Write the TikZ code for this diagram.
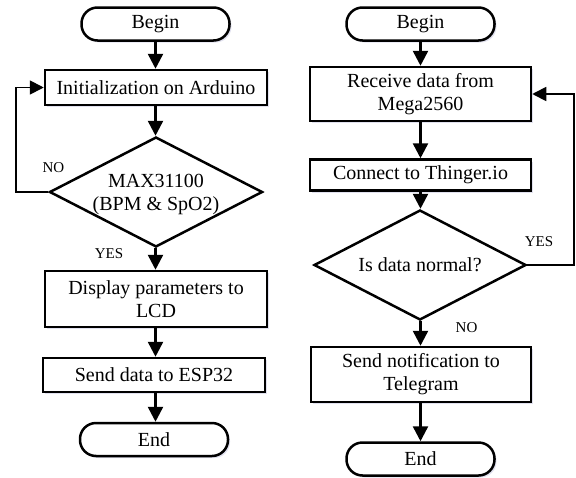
\documentclass[tikz,border=0pt]{standalone}
\usepackage{fontspec}
\setmainfont{Liberation Serif}
\usetikzlibrary{arrows.meta,shapes.geometric,shadows}
\begin{document}
\begin{tikzpicture}[x=1pt,y=-1pt,
  every node/.style={font=\fontsize{20}{23}\selectfont},
  shad/.style={drop shadow={shadow xshift=2pt,shadow yshift=-2pt,opacity=0.18,fill=blue!30!gray}},
  term/.style={draw,line width=2.5pt,rounded corners=16pt,minimum width=148pt,minimum height=33pt,inner sep=0pt,fill=white,shad},
  proc/.style={draw,line width=2.5pt,minimum width=222pt,inner sep=0pt,fill=white,align=center,shad},
  dia/.style={draw,line width=2.5pt,shape=diamond,minimum width=213pt,minimum height=110pt,inner sep=0pt,fill=white},
  lbl/.style={font=\fontsize{15}{17}\selectfont,inner sep=0pt},
  arr/.style={line width=2.5pt,-{Triangle[length=15pt,width=15pt]}},
  back/.style={line width=1.8pt,-{Triangle[length=14pt,width=14pt]}}
]
\useasboundingbox (0,0) rectangle (576,477);
% left chart
\node[term] (b1) at (155.5,24) {Begin};
\node[proc,minimum height=35pt] (i1) at (156,87.5) {Initialization on Arduino};
\node[dia] (d1) at (156,192) {};
\node[align=center,inner sep=0pt] (t1) at (156,194) {MAX31100\\(BPM \& SpO2)};
\node[proc,minimum height=56pt] (p1) at (156,299) {Display parameters to\\LCD};
\node[proc,minimum height=34pt] (s1) at (154,375) {Send data to ESP32};
\node[term] (e1) at (154,439.5) {End};
\node[lbl] (no1) at (53.5,168) {NO};
\node[lbl] (yes1) at (109,254) {YES};
\draw[arr] (b1.south) -- (b1.south |- i1.north);
\draw[arr] (i1.south -| b1.south) -- (d1.north -| b1.south);
\draw[arr] (d1.south -| b1.south) -- (p1.north -| b1.south);
\draw[arr] (p1.south -| b1.south) -- (s1.north -| b1.south);
\draw[arr] (s1.south -| b1.south) -- (e1.north -| b1.south);
\draw[back] (d1.west) -- ++(-32,0) |- (i1.west);
% right chart
\node[term] (b2) at (420.5,24) {Begin};
\node[proc,minimum width=221pt,minimum height=54pt] (r2) at (420.5,94) {Receive data from\\Mega2560};
\node[proc,minimum width=221pt,minimum height=31pt] (c2) at (420.5,175) {Connect to Thinger.io};
\node[dia,minimum width=212pt] (d2) at (420,265) {};
\node[inner sep=0pt] (t2) at (420,265) {Is data normal?};
\node[proc,minimum width=220pt,minimum height=55pt] (n2) at (421,374.5) {Send notification to\\Telegram};
\node[term] (e2) at (420.5,459) {End};
\node[lbl] (yes2) at (539,242) {YES};
\node[lbl] (no2) at (466.5,328) {NO};
\draw[arr] (b2.south) -- (b2.south |- r2.north);
\draw[arr] (r2.south -| b2.south) -- (c2.north -| b2.south);
\draw[arr] (c2.south -| b2.south) -- (d2.north -| b2.south);
\draw[arr] (d2.south -| b2.south) -- (n2.north -| b2.south);
\draw[arr] (n2.south -| b2.south) -- (e2.north -| b2.south);
\draw[back] (d2.east) -- ++(47,0) |- (r2.east);
\end{tikzpicture}
\end{document}
